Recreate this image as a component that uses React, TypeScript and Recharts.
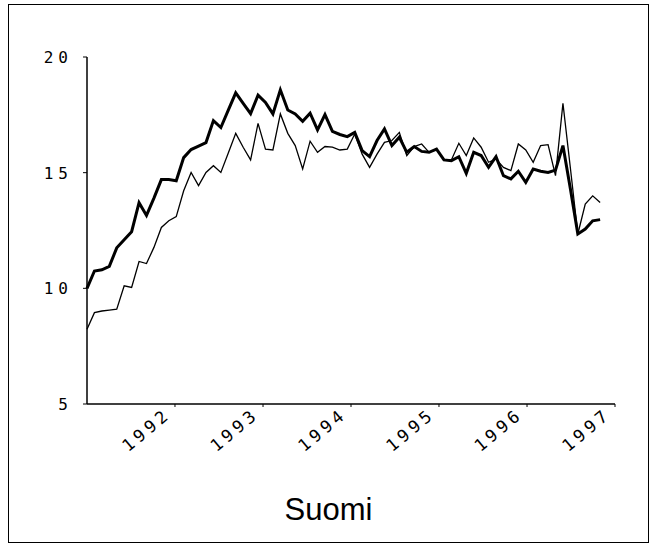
import { LineChart, Line, XAxis, YAxis } from 'recharts';

// monthly values, Jan 1991 onwards
const THICK = [
  10.0, 10.75, 10.8, 10.95, 11.75, 12.1, 12.45, 13.7, 13.15, 13.9, 14.7, 14.7,
  14.65, 15.65, 16.0, 16.15, 16.3, 17.25, 16.95, 17.7, 18.45, 18.0, 17.55, 18.35,
  18.04, 17.54, 18.58, 17.71, 17.54, 17.22, 17.57, 16.85, 17.51, 16.79, 16.65, 16.56,
  16.74, 15.95, 15.69, 16.39, 16.89, 16.17, 16.53, 15.88, 16.13, 15.92, 15.88, 16.02,
  15.55, 15.52, 15.69, 14.97, 15.88, 15.74, 15.23, 15.69, 14.87, 14.73, 15.06, 14.58,
  15.16, 15.06, 15.01, 15.11, 16.17, 14.3, 12.35, 12.56, 12.92, 12.97,
];

const THIN = [
  8.23, 8.95, 9.02, 9.06, 9.1, 10.11, 10.04, 11.16, 11.07, 11.77, 12.63, 12.92,
  13.1, 14.22, 15.01, 14.44, 15.01, 15.3, 15.01, 15.85, 16.7, 16.1, 15.55, 17.13,
  16.02, 15.98, 17.54, 16.7, 16.17, 15.16, 16.36, 15.88, 16.13, 16.1, 15.98, 16.02,
  16.67, 15.8, 15.23, 15.8, 16.31, 16.39, 16.74, 15.74, 16.13, 16.24, 15.88, 16.02,
  15.55, 15.55, 16.27, 15.74, 16.5, 16.1, 15.45, 15.59, 15.23, 15.09, 16.24, 15.98,
  15.45, 16.17, 16.21, 14.87, 18.0, 15.2, 12.35, 13.64, 14.0, 13.71,
];

const YEAR_TICKS = [11.83, 23.67, 35.5, 47.33, 59.17, 71];
const YEAR_LABELS = ['1992', '1993', '1994', '1995', '1996', '1997'];
const Y_TICKS = [5, 10, 15, 20];

const data = THICK.map((v, i) => ({ i, thick: v, thin: THIN[i] }));

const FONT = '"DejaVu Sans Mono", monospace';

function XTick({ x, y, payload }: any) {
  const idx = YEAR_TICKS.indexOf(payload.value);
  return (
    <g transform={`translate(${x - 3},${y + 7})`}>
      <text
        x={0}
        y={0}
        transform="rotate(-40)"
        textAnchor="end"
        fontFamily={FONT}
        fontSize={17}
        letterSpacing={4}
        fill="#000"
      >
        {YEAR_LABELS[idx]}
      </text>
    </g>
  );
}

function YTick({ x, y, payload }: any) {
  return (
    <text
      x={x - 8}
      y={y + 6}
      textAnchor="end"
      fontFamily={FONT}
      fontSize={16}
      letterSpacing={5}
      fill="#000"
    >
      {payload.value}
    </text>
  );
}

export default function App() {
  return (
    <div style={{ position: 'relative', width: 656, height: 545, background: '#fff' }}>
      <style>{'body{margin:0;background:#fff}'}</style>
      {/* frame */}
      <div
        style={{
          position: 'absolute',
          left: 8,
          top: 4,
          width: 641,
          height: 539,
          border: '1px solid #000',
          boxSizing: 'border-box',
        }}
      />
      <div style={{ position: 'absolute', left: 0, top: 0 }}>
        <LineChart
          width={656}
          height={470}
          data={data}
          margin={{ top: 57, right: 41, left: 47, bottom: 6 }}
        >
          <XAxis
            type="number"
            dataKey="i"
            domain={[0, 71]}
            ticks={YEAR_TICKS}
            interval={0}
            height={60}
            axisLine={{ stroke: '#000', strokeWidth: 1.5 }}
            tickLine={{ stroke: '#000' }}
            tickSize={3}
            tick={<XTick />}
          />
          <YAxis
            type="number"
            domain={[5, 20]}
            ticks={Y_TICKS}
            interval={0}
            width={40}
            axisLine={{ stroke: '#000', strokeWidth: 1.5 }}
            tickLine={{ stroke: '#000' }}
            tickSize={4}
            tick={<YTick />}
          />
          <Line
            type="linear"
            dataKey="thin"
            stroke="#000"
            strokeWidth={1.3}
            dot={false}
            isAnimationActive={false}
          />
          <Line
            type="linear"
            dataKey="thick"
            stroke="#000"
            strokeWidth={3}
            dot={false}
            isAnimationActive={false}
          />
        </LineChart>
      </div>
      <div
        style={{
          position: 'absolute',
          left: 8,
          width: 641,
          top: 492,
          textAlign: 'center',
          fontFamily: '"Liberation Sans", Arial, sans-serif',
          fontSize: 31,
          color: '#000',
        }}
      >
        Suomi
      </div>
    </div>
  );
}
